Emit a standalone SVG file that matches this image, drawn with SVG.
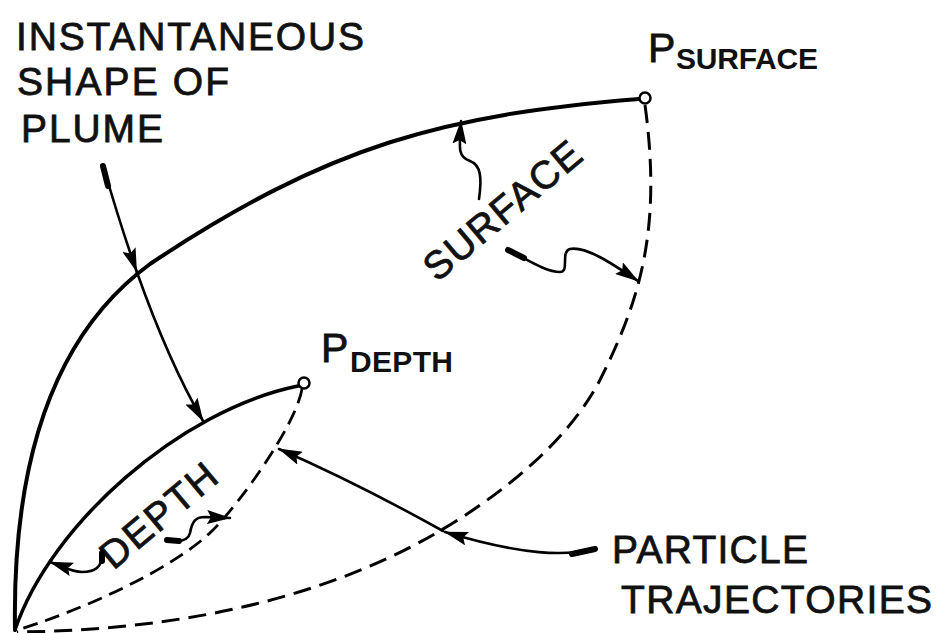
<svg xmlns="http://www.w3.org/2000/svg" width="938" height="633" viewBox="0 0 938 633">
<style>
.solid{fill:none;stroke:#000;stroke-width:4;stroke-linecap:round}
.dsolid{fill:none;stroke:#000;stroke-width:3.5;stroke-linecap:round}
.dash{fill:none;stroke:#000;stroke-width:3;stroke-dasharray:18 9}
.idash{fill:none;stroke:#000;stroke-width:2.8;stroke-dasharray:15 8}
.arrow{fill:none;stroke:#000;stroke-width:2.6;stroke-linecap:round;marker-end:url(#ah)}
.blob{fill:none;stroke:#000;stroke-width:6;stroke-linecap:round}
.pt{fill:#fff;stroke:#000;stroke-width:2.5}
.lbl{font-family:"Liberation Sans",Arial,sans-serif;font-size:39px;fill:#111;stroke:#111;stroke-width:0.8}
.sub{font-family:"Liberation Sans",Arial,sans-serif;font-size:30px;font-weight:bold;fill:#111}
</style>
<defs>
<marker id="ah" markerUnits="userSpaceOnUse" markerWidth="24" markerHeight="14" viewBox="0 0 24 14" refX="23" refY="7" orient="auto">
<path d="M0,0 L24,7 L0,14 L4,7 z" fill="#000"/>
</marker>
</defs>

<g id="plume">
<path class="solid" d="M15,630 C12,450 60,330 150,264 C330,144 445,115 639,99"/>
<path class="dsolid" d="M15,630 C50,525 180,410 298,386"/>
</g>

<g id="trajectories">
<path class="dash" d="M645,105 C662,230 640,300 600,380 C572,433 523,476 473,510 C348,595 190,630 17,632"/>
<path class="idash" d="M302,389 C296,425 240,503 213,530 C173,570 77,612 17,630"/>
</g>

<g id="p-surface">
<circle class="pt" cx="645" cy="98" r="5.5"/>
<text class="lbl" x="648" y="62" style="font-size:41px">P</text>
<text class="sub" x="676" y="69" textLength="142" lengthAdjust="spacing">SURFACE</text>
</g>

<g id="p-depth">
<circle class="pt" cx="304" cy="383" r="5.5"/>
<text class="lbl" x="321" y="362" style="font-size:41px">P</text>
<text class="sub" x="350" y="372" textLength="103" lengthAdjust="spacing">DEPTH</text>
</g>

<g id="label-plume">
<text class="lbl" x="16" y="50" textLength="348" lengthAdjust="spacing">INSTANTANEOUS</text>
<text class="lbl" x="17" y="95" textLength="212" lengthAdjust="spacing">SHAPE OF</text>
<text class="lbl" x="21" y="142" textLength="142" lengthAdjust="spacing">PLUME</text>
</g>

<g id="label-surface">
<text class="lbl" text-anchor="middle" transform="translate(502,210) rotate(-40)" y="14" textLength="193" lengthAdjust="spacing">SURFACE</text>
</g>

<g id="label-depth">
<text class="lbl" text-anchor="middle" transform="translate(158,515) rotate(-40)" y="14" textLength="140" lengthAdjust="spacing">DEPTH</text>
</g>

<g id="label-particle">
<text class="lbl" x="612" y="563" textLength="196" lengthAdjust="spacing">PARTICLE</text>
<text class="lbl" x="621" y="613" textLength="311" lengthAdjust="spacing">TRAJECTORIES</text>
</g>

<g id="connectors">
<path class="arrow" d="M103,165 Q119.5,222.75 136.6,271.3"/>
<path class="arrow" d="M136.6,271.3 Q168.5,361.5 203,421"/>
<path class="blob" d="M103,166 L108,186"/>
<path class="arrow" d="M479,199 C482,178 481,165 470,161 C458,157 459,150 461,121"/>
<path class="arrow" d="M508,250 C525,258 545,272 560,272 C570,272 560,252 570,249 C585,246 610,262 638,281"/>
<path class="blob" d="M508,250 L524,258"/>
<path class="arrow" d="M167,540 C178,542 188,542 190,533 C192,522 195,517 205,517 L230,518"/>
<path class="blob" d="M167,540 L179,541"/>
<path class="arrow" d="M102,555 C102,568 94,572 82,572 C72,572 62,566 50,562"/>
<path class="blob" d="M102,553 L102,561"/>
<path class="arrow" d="M595,549 C565,556 525,556 445,532"/>
<path class="blob" d="M595,549 L572,554"/>
<path class="arrow" d="M443,531 Q355,482 279,449"/>
</g>
</svg>
